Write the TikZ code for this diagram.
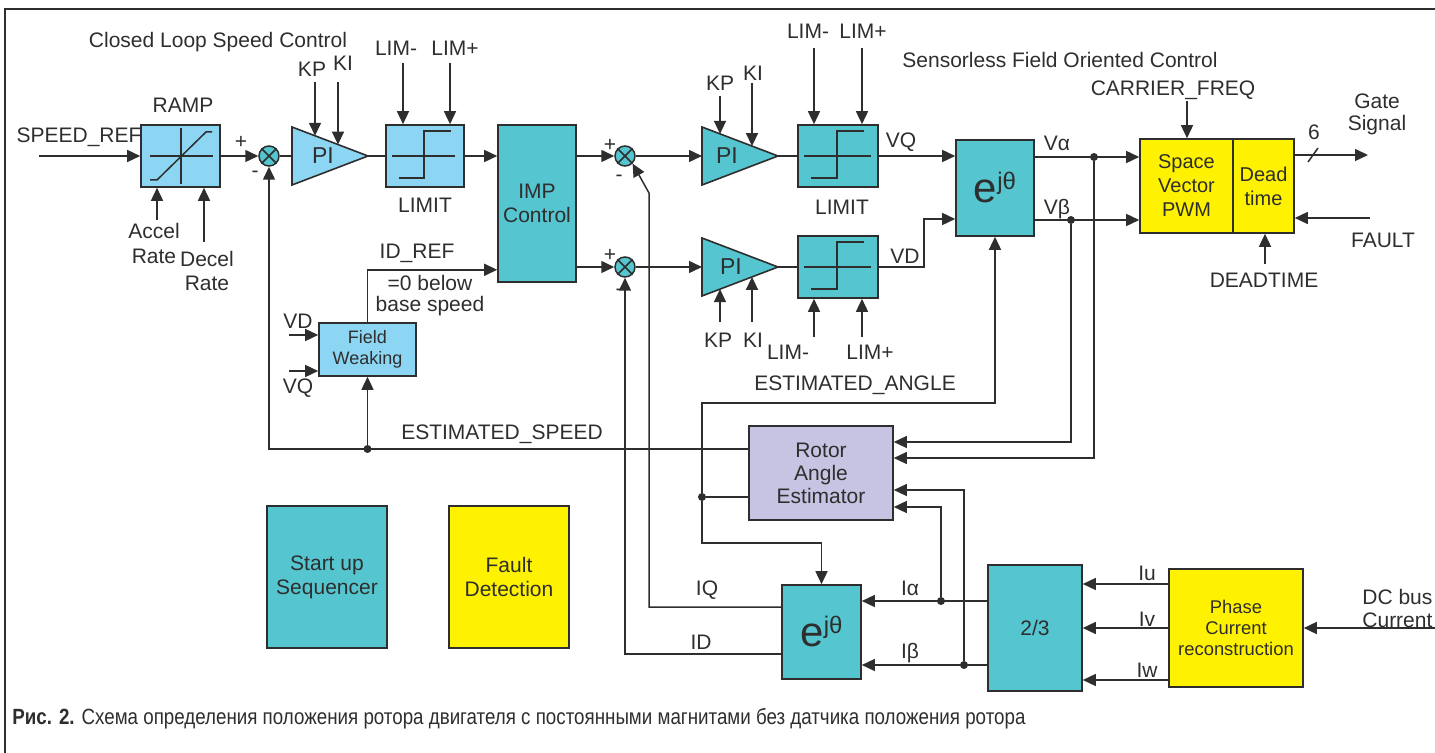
\documentclass[tikz,border=0pt]{standalone}
\usepackage{fontspec}
\usepackage{graphicx}
\setmainfont{Liberation Sans}
\usetikzlibrary{arrows.meta,calc}
\definecolor{lblue}{HTML}{8DD6F3}
\definecolor{tealc}{HTML}{55C5CF}
\definecolor{yel}{HTML}{FFF200}
\definecolor{lav}{HTML}{C6C4E2}
\definecolor{ln}{HTML}{2E2E2E}
\newcommand{\ejt}{{\fontsize{21}{21}\selectfont e}\raisebox{6.5pt}{\fontsize{12}{12}\selectfont jθ}}
\begin{document}
\begin{tikzpicture}[x=0.5pt,y=-0.5pt,
  fnt/.style={font=\fontsize{10.5}{12}\selectfont},
  blk/.style={draw=ln, line width=0.8pt, inner sep=0pt, align=center, text=ln, fnt},
  lbl/.style={inner sep=0pt, text=ln, align=center, fnt},
  wire/.style={draw=ln, line width=0.75pt},
  arr/.style={wire, -{Triangle[length=6.5pt,width=6pt]}},
  jdot/.style={circle, fill=ln, inner sep=0pt, minimum size=4pt},
  sumn/.style={circle, draw=ln, line width=0.75pt, fill=tealc, minimum size=10pt, inner sep=0pt},
  tri/.style={draw=ln, line width=0.8pt},
  glyph/.style={draw=ln, line width=0.75pt},
]
\useasboundingbox (0,0) rectangle (1435,753);
\draw[ln, line width=0.8pt] (5,753) -- (5,9) -- (1435,9);

% titles
\node[lbl] (tcl) at (218,42) {Closed Loop Speed Control};
\node[lbl] (tsf) at (1060,60) {Sensorless Field Oriented Control};

% ---------------- speed loop
\node[blk, fill=lblue, minimum width=39.5pt, minimum height=31pt] (ramp) at (180.5,156) {};
\draw[glyph] (150,156)--(213,156) (181,128)--(181,184);
\draw[glyph] (150,180)--(157,180)--(206,132)--(212,132);
\node[lbl] (tramp) at (183,105) {RAMP};
\node[lbl] (tspref) at (79,137) {SPEED\_REF};
\coordinate (spin) at (39,156);
\draw[arr] (spin) -- (ramp.west);
\coordinate (acc) at (157,220);
\draw[arr] (acc) -- (acc |- ramp.south);
\coordinate (dec) at (204,242);
\draw[arr] (dec) -- (dec |- ramp.south);
\node[lbl] (tacc) at (154,231) {Accel};
\node[lbl] (tacr) at (154,256) {Rate};
\node[lbl] (tdec) at (207,259) {Decel};
\node[lbl] (tder) at (207,283) {Rate};

\node[sumn] (s1) at (269,156) {};
\node[lbl] (s1p) at (241,142) {+};
\node[lbl] (s1m) at (255,174) {-};
\draw[arr] (ramp.east) -- (s1.west);

\filldraw[tri, fill=lblue] (292,127) -- (368,156) -- (292,185) -- cycle;
\coordinate (pi1w) at (292,156);
\coordinate (pi1e) at (368,156);
\node[lbl, font=\fontsize{11.5}{12}\selectfont] (pi1) at (323,156) {PI};
\draw[wire] (s1.east) -- (pi1w);
\coordinate (kp1) at (315,82);
\coordinate (kp1t) at (315,135.8);
\coordinate (ki1) at (338,82);
\coordinate (ki1t) at (338,144.6);
\draw[arr] (kp1) -- (kp1t);
\draw[arr] (ki1) -- (ki1t);
\node[lbl] (tkp1) at (312,69) {KP};
\node[lbl] (tki1) at (343,63) {KI};

\node[blk, fill=lblue, minimum width=39pt, minimum height=31pt] (lim1) at (425,156) {};
\draw[glyph] (392,156)--(455,156);
\draw[glyph] (399,178)--(424,178)--(424,131)--(451,131);
\draw[wire] (pi1e) -- (lim1.west);
\coordinate (lm1) at (403,63);
\coordinate (lp1) at (450,63);
\draw[arr] (lm1) -- (lm1 |- lim1.north);
\draw[arr] (lp1) -- (lp1 |- lim1.north);
\node[lbl] (tlm1) at (396,48) {LIM-};
\node[lbl] (tlp1) at (455,48) {LIM+};
\node[lbl] (tlim1) at (425,205) {LIMIT};

\node[blk, fill=tealc, minimum width=39pt, minimum height=78.5pt] (imp) at (537,203.5) {IMP\\Control};
\draw[arr] (lim1.east) -- (lim1.east -| imp.west);

\node[blk, fill=lblue, font=\fontsize{9}{10.5}\selectfont, minimum width=48.5pt, minimum height=26.5pt] (fw) at (367.5,349.5) {Field\\Weaking};
\draw[arr] (fw.north) |- ($(imp.south west)+(0,-13)$);
\node[lbl] (tidref) at (417,253) {ID\_REF};
\node[lbl] (tbel) at (430,283) {=0 below};
\node[lbl] (tbas) at (430,306) {base speed};
\coordinate (vdin) at (289,335);
\coordinate (vqin) at (289,371);
\draw[arr] (vdin) -- (vdin -| fw.west);
\draw[arr] (vqin) -- (vqin -| fw.west);
\node[lbl] (tvd1) at (298,321) {VD};
\node[lbl] (tvq1) at (298,388) {VQ};

% ---------------- current loops
\node[sumn] (s2) at (625,156) {};
\node[sumn] (s3) at (625,267) {};
\node[lbl] (s2p) at (610,145) {+};
\node[lbl] (s2m) at (619,178) {-};
\node[lbl] (s3p) at (610,255) {+};
\node[lbl] (s3m) at (619,292) {-};
\draw[arr] (imp.east |- s2) -- (s2.west);
\draw[arr] (imp.east |- s3) -- (s3.west);

\filldraw[tri, fill=tealc] (702,127) -- (778,156) -- (702,185) -- cycle;
\coordinate (pi2w) at (702,156);
\coordinate (pi2e) at (778,156);
\node[lbl, font=\fontsize{11.5}{12}\selectfont] (pi2) at (727,156) {PI};
\draw[arr] (s2.east) -- (pi2w);
\coordinate (kp2) at (720,96);
\coordinate (kp2t) at (720,133.9);
\coordinate (ki2) at (752,83);
\coordinate (ki2t) at (752,146.1);
\draw[arr] (kp2) -- (kp2t);
\draw[arr] (ki2) -- (ki2t);
\node[lbl] (tkp2) at (720,83) {KP};
\node[lbl] (tki2) at (753,73) {KI};

\filldraw[tri, fill=tealc] (702,238) -- (778,267) -- (702,296) -- cycle;
\coordinate (pi3w) at (702,267);
\coordinate (pi3e) at (778,267);
\node[lbl, font=\fontsize{11.5}{12}\selectfont] (pi3) at (731,267) {PI};
\draw[arr] (s3.east) -- (pi3w);
\coordinate (kp3) at (720,322);
\coordinate (kp3t) at (720,289.1);
\coordinate (ki3) at (752,322);
\coordinate (ki3t) at (752,276.9);
\draw[arr] (kp3) -- (kp3t);
\draw[arr] (ki3) -- (ki3t);
\node[lbl] (tkp3) at (718,340) {KP};
\node[lbl] (tki3) at (753,340) {KI};

\node[blk, fill=tealc, minimum width=40pt, minimum height=31pt] (lim2) at (838,156) {};
\draw[glyph] (804,156)--(871,156);
\draw[glyph] (811,178)--(837,178)--(837,131)--(864,131);
\draw[wire] (pi2e) -- (lim2.west);
\coordinate (lm2) at (814,48);
\coordinate (lp2) at (862,48);
\draw[arr] (lm2) -- (lm2 |- lim2.north);
\draw[arr] (lp2) -- (lp2 |- lim2.north);
\node[lbl] (tlm2) at (808,31) {LIM-};
\node[lbl] (tlp2) at (863,31) {LIM+};
\node[lbl] (tlim2) at (842,207) {LIMIT};

\node[blk, fill=tealc, minimum width=40pt, minimum height=31pt] (lim3) at (838,267) {};
\draw[glyph] (804,267)--(871,267);
\draw[glyph] (811,289)--(837,289)--(837,242)--(864,242);
\draw[wire] (pi3e) -- (lim3.west);
\coordinate (lm3) at (814,337);
\coordinate (lp3) at (862,337);
\draw[arr] (lm3) -- (lm3 |- lim3.south);
\draw[arr] (lp3) -- (lp3 |- lim3.south);
\node[lbl] (tlm3) at (788,352) {LIM-};
\node[lbl] (tlp3) at (870,352) {LIM+};

% ---------------- inverse park
\node[blk, fill=tealc, minimum width=39pt, minimum height=48pt] (e1) at (995,188) {\ejt};
\draw[arr] (lim2.east) -- (lim2.east -| e1.west);
\node[lbl] (tvq2) at (901,142) {VQ};
\coordinate (vdk) at (924,219);
\draw[arr] (lim3.east) -| (vdk) -- (vdk -| e1.west);
\node[lbl] (tvd2) at (905,256) {VD};

% ---------------- SVPWM
\node[blk, fill=yel, minimum width=46.5pt, minimum height=47pt, font=\fontsize{10}{12}\selectfont] (svp) at (1186.5,186) {Space\\Vector\\PWM};
\node[blk, fill=yel, minimum width=30.5pt, minimum height=47pt, font=\fontsize{10}{12}\selectfont] (dead) at (1263.5,186) {Dead\\time};
\coordinate (va0) at (1034,157);
\coordinate (vb0) at (1034,220);
\draw[arr] (va0) -- (va0 -| svp.west);
\draw[arr] (vb0) -- (vb0 -| svp.west);
\node[jdot] (dva) at (1094,157) {};
\node[jdot] (dvb) at (1071,220) {};
\node[lbl] (tva) at (1057,143) {Vα};
\node[lbl] (tvb) at (1057,209) {Vβ};
\node[lbl] (tcf) at (1173,90) {CARRIER\_FREQ};
\coordinate (cf) at (1187,101);
\draw[arr] (cf) -- (cf |- svp.north);
\coordinate (gate) at (1368,155);
\draw[arr] (gate -| dead.east) -- (gate);
\draw[wire] (1308,162) -- (1318,148);
\node[lbl] (t6) at (1314,132) {6};
\node[lbl, font=\fontsize{10.5}{11}\selectfont] (tgate) at (1377,114) {Gate\\Signal};
\coordinate (flt) at (1370,218);
\draw[arr] (flt) -- (flt -| dead.east);
\node[lbl] (tflt) at (1383,240) {FAULT};
\coordinate (dt) at (1265,264);
\draw[arr] (dt) -- (dt |- dead.south);
\node[lbl] (tdt) at (1264,280) {DEADTIME};

% ---------------- estimator
\node[blk, fill=lav, minimum width=72pt, minimum height=47pt, font=\fontsize{10.5}{11.5}\selectfont] (rot) at (821,473) {Rotor\\Angle\\Estimator};
\draw[arr] (dvb) |- (rot.east |- 0,442);
\draw[arr] (dva) |- (rot.east |- 0,458);
\node[jdot] (d1) at (fw.south |- 0,449) {};
\draw[arr] (rot.west |- 0,449) -| (s1.south);
\draw[arr] (d1) -- (fw.south);
\node[lbl] (tesp) at (502,434) {ESTIMATED\_SPEED};

\node[blk, fill=tealc, minimum width=39.5pt, minimum height=47pt] (e2) at (821.5,632) {\ejt};
\node[jdot] (da) at (702,497) {};
\draw[wire] (rot.west |- da) -- (da);
\coordinate (ac) at (702,403);
\coordinate (ad) at (702,543);
\draw[arr] (da) -- (ac) -| (e1.south);
\draw[arr] (da) -- (ad) -| (e2.north);
\node[lbl] (tea) at (855,385) {ESTIMATED\_ANGLE};

% ---------------- Clarke & reconstruction
\node[blk, fill=tealc, minimum width=47pt, minimum height=63pt] (t23) at (1035,628) {2/3};
\coordinate (ia0) at (988,601);
\coordinate (ib0) at (988,665);
\draw[arr] (ia0) -- (ia0 -| e2.east);
\draw[arr] (ib0) -- (ib0 -| e2.east);
\node[jdot] (dia) at (941,601) {};
\node[jdot] (dib) at (964,665) {};
\draw[arr] (dia) |- (rot.east |- 0,507);
\draw[arr] (dib) |- (rot.east |- 0,490);
\node[lbl] (tia) at (910,588) {Iα};
\node[lbl] (tib) at (910,653) {Iβ};

\coordinate (iqk) at (649,193);
\draw[arr] (e2.west |- 0,607) -| (iqk) -- (s2.south east);
\draw[arr] (e2.west |- 0,654) -| (s3.south);
\node[lbl] (tiq) at (707,590) {IQ};
\node[lbl] (tid) at (701,642) {ID};

\node[blk, fill=yel, minimum width=67pt, minimum height=59pt, font=\fontsize{9.2}{10.5}\selectfont] (pcr) at (1236,628) {Phase\\Current\\reconstruction};
\coordinate (iu) at (1169,584);
\coordinate (iv) at (1169,628);
\coordinate (iw) at (1169,680);
\draw[arr] (iu) -- (iu -| t23.east);
\draw[arr] (iv) -- (iv -| t23.east);
\draw[arr] (iw) -- (iw -| t23.east);
\node[lbl] (tiu) at (1147,573) {Iu};
\node[lbl] (tiv) at (1147,619) {Iv};
\node[lbl] (tiw) at (1147,670) {Iw};
\coordinate (dc) at (1435,628);
\draw[arr] (dc) -- (dc -| pcr.east);
\node[lbl, anchor=west, align=left, font=\fontsize{10.5}{11.5}\selectfont] (tdc) at (1362,608) {DC bus\\Current};

% ---------------- misc blocks
\node[blk, fill=tealc, minimum width=60pt, minimum height=71pt] (sus) at (327,577) {Start up\\Sequencer};
\node[blk, fill=yel, minimum width=60pt, minimum height=71pt] (fd) at (509,577) {Fault\\Detection};

% ---------------- caption
\node[anchor=west, inner sep=0pt, text=ln] (cap) at (12,719) {\resizebox{506.5pt}{\height}{\fontsize{11}{13}\selectfont\textbf{Рис. 2.} Схема определения положения ротора двигателя с постоянными магнитами без датчика положения ротора}};

\foreach \s in {s1,s2,s3}
  \draw[glyph] (\s.north west)--(\s.south east) (\s.north east)--(\s.south west);
\end{tikzpicture}
\end{document}
